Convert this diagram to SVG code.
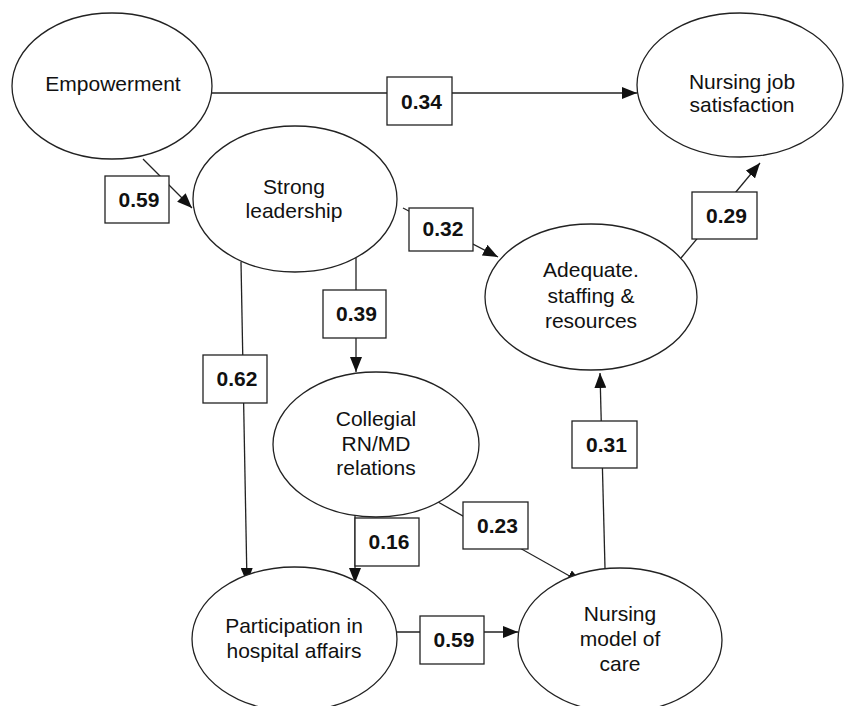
<svg xmlns="http://www.w3.org/2000/svg" width="846" height="706" viewBox="0 0 846 706">
<style>
.node ellipse{fill:#fff;stroke:#222;stroke-width:1.3}
.node text{font-family:"Liberation Sans",Arial,sans-serif;font-size:21px;fill:#111;text-anchor:middle}
.conn path{fill:none;stroke:#222;stroke-width:1.3}
.lbl rect{fill:#fff;stroke:#222;stroke-width:1.3}
.lbl text{font-family:"Liberation Sans",Arial,sans-serif;font-size:21px;font-weight:bold;fill:#111;text-anchor:middle}
</style>
<defs>
<marker id="ah" markerUnits="userSpaceOnUse" markerWidth="15" markerHeight="12" refX="15" refY="6" orient="auto">
<path d="M0,0 L15,6 L0,12 Z" fill="#111"/>
</marker>
</defs>
<rect width="846" height="706" fill="#fff"/>
<g id="connectors" class="conn">
<path d="M212,93 L637,93" marker-end="url(#ah)"/>
<path d="M143,159 L192,208" marker-end="url(#ah)"/>
<path d="M403,208 L498,257" marker-end="url(#ah)"/>
<path d="M681,258 L760,163" marker-end="url(#ah)"/>
<path d="M241,262 L247,583" marker-end="url(#ah)"/>
<path d="M356,258 L356,372" marker-end="url(#ah)"/>
<path d="M355,515 L355,583" marker-end="url(#ah)"/>
<path d="M438,502 L582,583" marker-end="url(#ah)"/>
<path d="M397,632 L518,632" marker-end="url(#ah)"/>
<path d="M605,568 L600,373" marker-end="url(#ah)"/>
</g>
<g id="empowerment" class="node">
<ellipse cx="112" cy="86" rx="100" ry="73"/>
<text x="113" y="91">Empowerment</text>
</g>
<g id="job-satisfaction" class="node">
<ellipse cx="740" cy="85" rx="103" ry="72"/>
<text x="742" y="89">Nursing job</text>
<text x="742" y="112">satisfaction</text>
</g>
<g id="strong-leadership" class="node">
<ellipse cx="295" cy="199" rx="102" ry="73"/>
<text x="294" y="194">Strong</text>
<text x="294" y="218">leadership</text>
</g>
<g id="adequate-staffing" class="node">
<ellipse cx="591" cy="297" rx="106" ry="73"/>
<text x="591" y="277">Adequate.</text>
<text x="591" y="303">staffing &amp;</text>
<text x="591" y="328">resources</text>
</g>
<g id="collegial-relations" class="node">
<ellipse cx="376" cy="444.5" rx="103" ry="72.5"/>
<text x="376" y="426">Collegial</text>
<text x="376" y="451">RN/MD</text>
<text x="376" y="475">relations</text>
</g>
<g id="participation" class="node">
<ellipse cx="294.5" cy="639" rx="102.5" ry="72"/>
<text x="294" y="633">Participation in</text>
<text x="294" y="658">hospital affairs</text>
</g>
<g id="nursing-model" class="node">
<ellipse cx="620" cy="640" rx="102" ry="72"/>
<text x="620" y="621">Nursing</text>
<text x="620" y="646">model of</text>
<text x="620" y="671">care</text>
</g>
<g id="labels" class="lbl">
<rect x="387" y="77" width="65" height="48"/><text x="421.5" y="108.5">0.34</text>
<rect x="105" y="176" width="64" height="47"/><text x="139" y="207">0.59</text>
<rect x="409" y="208" width="64" height="43"/><text x="443" y="236">0.32</text>
<rect x="692" y="192" width="65" height="47"/><text x="726.5" y="223">0.29</text>
<rect x="203" y="355" width="64" height="48"/><text x="237" y="386">0.62</text>
<rect x="323" y="290" width="63" height="48"/><text x="356.5" y="321">0.39</text>
<rect x="572" y="421" width="65" height="47"/><text x="606.5" y="452">0.31</text>
<rect x="355" y="518" width="64" height="48"/><text x="389" y="549">0.16</text>
<rect x="463" y="502" width="65" height="47"/><text x="497.5" y="533">0.23</text>
<rect x="420" y="616" width="64" height="48"/><text x="454" y="647">0.59</text>
</g>
</svg>
